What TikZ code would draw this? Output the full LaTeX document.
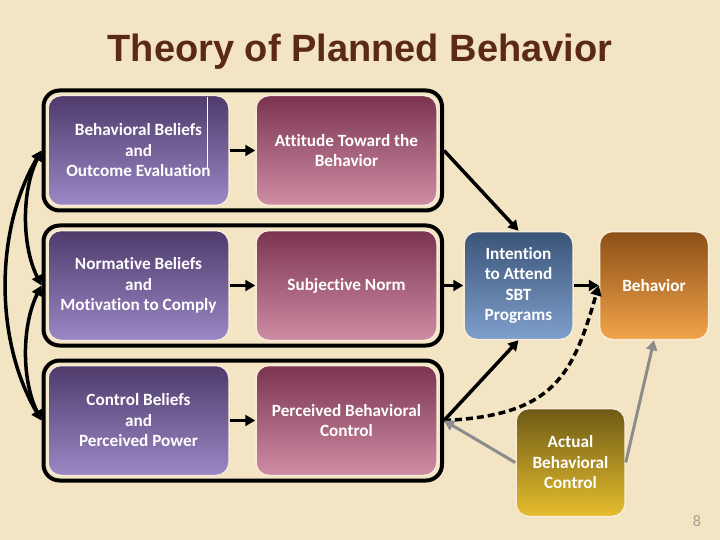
\documentclass[tikz,border=0pt]{standalone}
\usepackage{fontspec}
\setmainfont{Carlito}[Ligatures=NoCommon]
\newfontfamily\titlefont{Liberation Sans}
\usetikzlibrary{arrows.meta}
\definecolor{bgcream}{HTML}{F3E4C4}
\definecolor{titlebrown}{HTML}{5A2A16}
\definecolor{boxedge}{HTML}{F8ECD6}
\definecolor{purpletop}{HTML}{4E3B6B}
\definecolor{purplebot}{HTML}{9B88C6}
\definecolor{pinktop}{HTML}{7B3450}
\definecolor{pinkbot}{HTML}{CF8DA5}
\definecolor{bluetop}{HTML}{3B5478}
\definecolor{bluebot}{HTML}{7F9FCC}
\definecolor{orangetop}{HTML}{8C4F16}
\definecolor{orangebot}{HTML}{F2A44A}
\definecolor{goldtop}{HTML}{6E5A16}
\definecolor{goldbot}{HTML}{E6BE2E}
\definecolor{arrowgray}{HTML}{8C8C8C}
\definecolor{pagegray}{HTML}{A8A090}
\begin{document}
\begin{tikzpicture}[x=1pt,y=-1pt,>={Triangle[length=10pt,width=11pt]},line join=round,
	frame/.style={draw,line width=4pt,rounded corners=16pt,minimum width=398.5pt,minimum height=120pt,inner sep=0pt},
	box/.style={draw=boxedge,line width=1.5pt,rounded corners=13pt,inner sep=0pt,align=center,text=white,font=\bfseries\fontsize{17.2}{20.5}\selectfont},
	belief/.style={box,minimum width=181pt,minimum height=110pt,top color=purpletop,bottom color=purplebot},
	comp/.style={box,minimum width=181pt,minimum height=110pt,top color=pinktop,bottom color=pinkbot},
	small/.style={box,minimum width=109pt,minimum height=108pt},
	arr/.style={->,line width=3.5pt},
	grayarr/.style={->,line width=3pt,draw=arrowgray,arrowgray}]
	\fill[bgcream] (0,0) rectangle (720,540);
	\useasboundingbox (0,0) rectangle (720,540);
	\node[font=\titlefont\bfseries\fontsize{38}{40}\selectfont,text=titlebrown] (title) at (360,52) {Theory of Planned Behavior};
	\node[frame] (fr1) at (242.75,150.5) {};
	\node[frame] (fr2) at (242.75,285.5) {};
	\node[frame] (fr3) at (242.75,420.5) {};
	\node[belief] (bb) at (138.5,150.5) {Behavioral Beliefs\\and\\Outcome Evaluation};
	\node[belief] (nb) at (138.5,285.5) {Normative Beliefs\\and\\Motivation to Comply};
	\node[belief] (cb) at (138.5,420.5) {Control Beliefs\\and\\Perceived Power};
	\draw[white,line width=0.6pt] (207,97) -- (207,168);
	\node[comp] (att) at (346.5,150.5) {Attitude Toward the\\Behavior};
	\node[comp] (sn) at (346.5,285.5) {Subjective Norm};
	\node[comp] (pbc) at (346.5,420.5) {Perceived Behavioral\\Control};
	\node[small,top color=bluetop,bottom color=bluebot] (int) at (518.5,285.5) {Intention\\to Attend\\SBT\\Programs};
	\node[small,top color=orangetop,bottom color=orangebot] (beh) at (654,285.5) {Behavior};
	\node[small,top color=goldtop,bottom color=goldbot] (abc) at (570.5,462.5) {Actual\\Behavioral\\Control};
	\node[text=pagegray,font=\fontsize{16}{16}\selectfont] (pg) at (697,521) {8};
	\draw[arr] (bb) -- (att);
	\draw[arr] (nb) -- (sn);
	\draw[arr] (cb) -- (pbc);
	\draw[arr] (fr1.east) -- (int.north);
	\draw[arr] (fr2.east) -- (int.west);
	\draw[arr] (fr3.east) -- (int.south);
	\draw[arr] (int) -- (beh);
	\draw[arr,dash pattern=on 7pt off 4pt] (fr3.east) .. controls +(110,-5) and +(-26,90) .. (beh.west);
	\draw[grayarr] (abc.west) -- (fr3.east);
	\draw[grayarr] (abc.east) -- (beh.south);
	\draw[<->,line width=3.5pt] (fr1.west) .. controls +(-20,40) and +(-20,-40) .. (fr2.west);
	\draw[<->,line width=3.5pt] (fr2.west) .. controls +(-20,40) and +(-20,-40) .. (fr3.west);
	\draw[<->,line width=3.5pt] (fr1.west) .. controls +(-47,80) and +(-47,-80) .. (fr3.west);
\end{tikzpicture}
\end{document}
